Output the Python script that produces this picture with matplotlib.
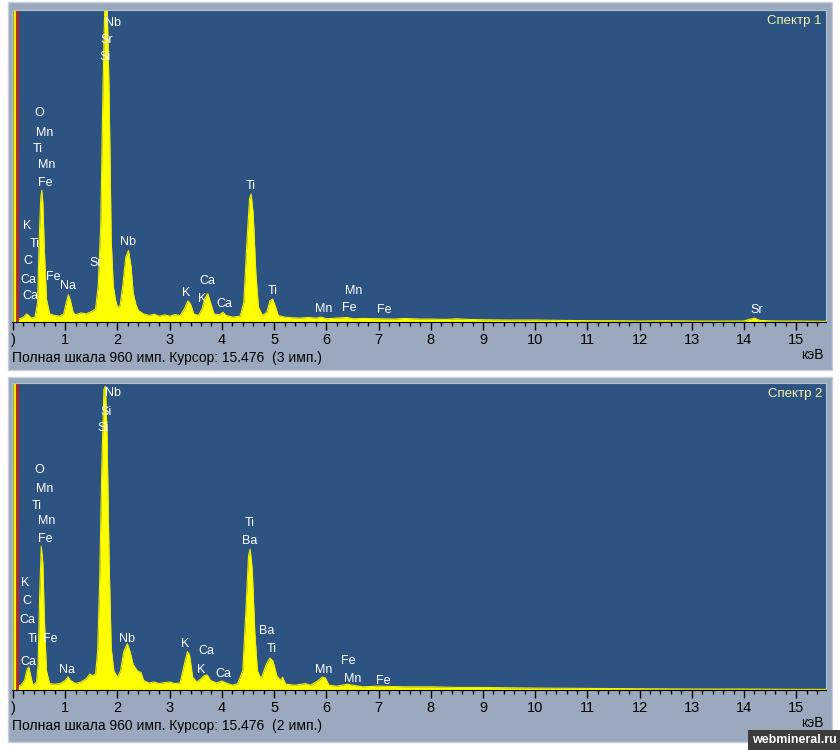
import matplotlib
matplotlib.use("Agg")
from matplotlib import pyplot as plt
from matplotlib.patches import Rectangle

plt.rcParams['font.family'] = ['Liberation Sans', 'DejaVu Sans']

# Spectrum 1 (keV, counts)
energy1 = [0.0, 0.04, 0.06, 0.1, 0.2, 0.26, 0.3, 0.35, 0.42, 0.47, 0.5, 0.53, 0.55, 0.57, 0.6,
           0.64, 0.7, 0.8, 0.9, 0.97, 1.02, 1.06, 1.1, 1.15, 1.2, 1.3, 1.4, 1.5, 1.58, 1.63,
           1.68, 1.72, 1.76, 1.8, 1.84, 1.88, 1.92, 1.96, 2.0, 2.05, 2.1, 2.16, 2.21, 2.26, 2.3,
           2.35, 2.4, 2.5, 2.6, 2.7, 2.8, 2.9, 3.0, 3.1, 3.2, 3.28, 3.35, 3.4, 3.46, 3.55, 3.62,
           3.68, 3.73, 3.78, 3.85, 3.95, 4.02, 4.08, 4.2, 4.35, 4.42, 4.48, 4.53, 4.56, 4.6,
           4.65, 4.7, 4.78, 4.86, 4.92, 4.97, 5.02, 5.08, 5.2, 5.35, 5.5, 5.65, 5.8, 5.9, 6.0,
           6.2, 6.4, 6.5, 6.7, 7.0, 7.3, 7.5, 7.8, 8.0, 8.3, 8.5, 8.7, 9.0, 9.5, 10.0, 10.5,
           11.0, 11.5, 12.0, 12.5, 13.0, 13.5, 14.0, 14.1, 14.2, 14.3, 14.6, 15.0, 15.6]
counts1 = [1000, 1000, 10, 8, 15, 25, 20, 12, 15, 60, 250, 380, 405, 370, 220,
           70, 25, 20, 18, 25, 60, 84, 65, 30, 22, 28, 25, 32, 40, 110,
           300, 700, 1000, 1000, 700, 250, 110, 70, 45, 50, 110, 200, 220, 170, 90,
           55, 35, 25, 20, 24, 18, 22, 18, 23, 20, 40, 65, 55, 25, 20, 40,
           75, 87, 60, 25, 22, 30, 20, 15, 18, 60, 250, 380, 394, 330,
           150, 45, 20, 30, 65, 71, 50, 20, 15, 13, 12, 14, 12, 15, 10,
           12, 14, 10, 11, 10, 9, 11, 9, 9, 8, 10, 8, 7, 6, 6, 5,
           4, 4, 3, 4, 3, 3, 3, 8, 12, 5, 3, 3, 2]

# Spectrum 2 (keV, counts)
energy2 = [0.0, 0.04, 0.06, 0.15, 0.22, 0.27, 0.3, 0.33, 0.38, 0.45, 0.48, 0.51, 0.54, 0.57, 0.6,
           0.64, 0.7, 0.8, 0.9, 1.0, 1.05, 1.1, 1.2, 1.3, 1.4, 1.47, 1.52, 1.58, 1.62, 1.66,
           1.7, 1.74, 1.77, 1.8, 1.84, 1.88, 1.93, 2.0, 2.06, 2.12, 2.19, 2.24, 2.3, 2.38, 2.45,
           2.5, 2.6, 2.7, 2.8, 2.9, 3.0, 3.1, 3.2, 3.28, 3.34, 3.38, 3.44, 3.52, 3.6, 3.66,
           3.72, 3.78, 3.9, 4.0, 4.08, 4.2, 4.3, 4.4, 4.46, 4.51, 4.54, 4.58, 4.63, 4.68, 4.75,
           4.85, 4.92, 4.98, 5.05, 5.12, 5.16, 5.22, 5.4, 5.6, 5.7, 5.85, 5.92, 5.98, 6.05, 6.2,
           6.4, 6.5, 6.7, 7.0, 7.5, 8.0, 8.5, 9.0, 9.5, 10.0, 11.0, 12.0, 13.0, 14.0, 15.0, 15.6]
counts2 = [1000, 1000, 10, 15, 30, 65, 72, 50, 15, 25, 80, 300, 450, 400, 220,
           60, 20, 18, 20, 30, 41, 30, 20, 25, 35, 50, 45, 50, 120, 350,
           700, 940, 950, 800, 400, 130, 60, 40, 60, 120, 145, 120, 80, 60, 55,
           30, 22, 25, 20, 23, 25, 20, 22, 80, 120, 110, 40, 25, 35, 45,
           47, 30, 22, 28, 22, 15, 20, 60, 250, 420, 440, 380, 180, 60, 35,
           80, 100, 90, 45, 30, 40, 18, 15, 20, 15, 30, 40, 38, 15, 12,
           18, 15, 10, 12, 10, 10, 8, 8, 7, 6, 5, 4, 3, 3, 2, 2]

# Peak labels (text, keV, counts)
labels1 = [("Nb", 1.92, 921), ("Sr", 1.8, 868), ("Si", 1.76, 815),
           ("O", 0.5, 642), ("Mn", 0.61, 583), ("Ti", 0.48, 533), ("Mn", 0.65, 484),
           ("Fe", 0.61, 428), ("K", 0.27, 295), ("Ti", 0.42, 239), ("C", 0.29, 189),
           ("Ca", 0.29, 130), ("Fe", 0.77, 140), ("Na", 1.06, 112), ("Ca", 0.33, 81),
           ("Sr", 1.59, 183), ("Nb", 2.21, 245), ("K", 3.31, 90), ("Ca", 3.72, 127),
           ("K", 3.62, 71), ("Ca", 4.04, 56), ("Ti", 4.56, 418), ("Ti", 4.98, 96),
           ("Mn", 5.94, 40), ("Mn", 6.53, 96), ("Fe", 6.44, 43), ("Fe", 7.1, 37),
           ("Sr", 14.25, 37)]
labels2 = [("Nb", 1.92, 929), ("Si", 1.78, 869), ("Si", 1.72, 819),
           ("O", 0.5, 687), ("Mn", 0.6, 630), ("Ti", 0.46, 576), ("Mn", 0.65, 529),
           ("Fe", 0.61, 472), ("K", 0.23, 334), ("C", 0.27, 277), ("Ca", 0.27, 220),
           ("Ti", 0.38, 161), ("Fe", 0.71, 161), ("Ca", 0.29, 88), ("Na", 1.03, 63),
           ("Nb", 2.18, 161), ("K", 3.3, 145), ("Ca", 3.7, 123), ("K", 3.6, 63),
           ("Ca", 4.02, 50), ("Ti", 4.54, 523), ("Ba", 4.54, 466), ("Ba", 4.85, 183),
           ("Ti", 4.96, 129), ("Mn", 5.94, 63), ("Fe", 6.42, 91), ("Mn", 6.51, 35),
           ("Fe", 7.09, 28)]

W, H = 840, 750
fig = plt.figure(figsize=(W / 100, H / 100), dpi=100)
fig.patch.set_facecolor('white')


def px_rect(x0, y0, x1, y1):
    # pixel box (top-left origin) -> figure fraction
    return [x0 / W, 1 - y1 / H, (x1 - x0) / W, (y1 - y0) / H]


def panel(frame, plot, energy, counts, labels, name, status):
    fx0, fy0, fx1, fy1 = frame
    fig.patches.append(Rectangle((fx0 / W, 1 - fy1 / H), (fx1 - fx0) / W, (fy1 - fy0) / H,
                                 transform=fig.transFigure, facecolor='#9aa9bd',
                                 edgecolor='#c8d0dc', lw=1, zorder=-5))
    ax = fig.add_axes(px_rect(*plot))
    ax.set_zorder(3)
    ax.set_facecolor('#2c5381')
    ax.fill_between(energy, counts, 0, color='#ffff00', lw=0)
    ax.plot(energy, counts, color='#f0f000', lw=0.8)
    ax.axvline(0.07, color='#b8281e', lw=2)
    ax.set_xlim(-0.02, 15.57)
    ax.set_ylim(0, 960)
    ax.set_yticks([])
    ax.set_xticks(range(0, 16))
    ax.set_xticks([i / 5 for i in range(0, 78)], minor=True)
    ax.set_xticklabels([')'] + [str(i) for i in range(1, 16)])
    ax.tick_params(axis='x', which='major', direction='out', length=6, width=1,
                   color='black', labelsize=10.5, pad=2)
    ax.tick_params(axis='x', which='minor', direction='out', length=3, width=1, color='black')
    for s in ['top', 'left', 'right']:
        ax.spines[s].set_color('#b7c2d0')
    ax.spines['bottom'].set_color('black')
    for txt, x, y in labels:
        ax.text(x, y, txt, color='white', fontsize=9, ha='center', va='center')
    ax.text(0.995, 0.985, name, transform=ax.transAxes, color='#f2f2a8',
            fontsize=9.5, ha='right', va='top')
    fig.text((plot[0]) / W, 1 - (plot[3] + 36) / H, status, fontsize=10,
             ha='left', va='center', color='black')
    fig.text((plot[2] - 2) / W, 1 - (plot[3] + 33) / H, 'кэВ', fontsize=10,
             ha='right', va='center', color='black')
    return ax


panel((8, 2, 832, 370), (12, 10, 826, 322), energy1, counts1, labels1,
      'Спектр 1', 'Полная шкала 960 имп. Курсор: 15.476  (3 имп.)')
panel((8, 377, 832, 742), (12, 383, 826, 690), energy2, counts2, labels2,
      'Спектр 2', 'Полная шкала 960 имп. Курсор: 15.476  (2 имп.)')

# watermark
fig.patches.append(Rectangle((748 / W, 0), 92 / W, 20 / H, transform=fig.transFigure,
                             facecolor='#3c3c3c', edgecolor='none', zorder=5))
fig.text(794 / W, 10 / H, 'webmineral.ru', color='white', fontsize=9,
         fontweight='bold', ha='center', va='center', zorder=6)

plt.savefig('out.png', dpi=100, facecolor=fig.get_facecolor())
